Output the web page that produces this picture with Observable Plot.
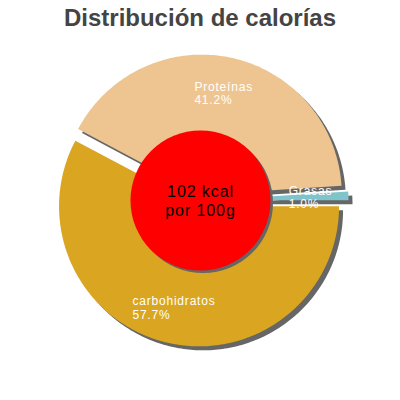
<!DOCTYPE html>
<html><head><meta charset="utf-8">
<script src="https://cdn.jsdelivr.net/npm/d3@7"></script>
<script src="https://cdn.jsdelivr.net/npm/@observablehq/plot@0.6"></script>
<style>
html,body{margin:0;padding:0;background:#fff;}
#title{font-family:"Liberation Sans",Arial,sans-serif;font-weight:bold;font-size:24px;color:#444;text-align:center;height:30px;line-height:30px;padding-top:3px;}
</style></head><body>
<div id="title">Distribución de calorías</div>
<div id="chart"></div>
<script>
// data
const categories = ["carbohidratos", "Proteínas", "Grasas"];
const percents = [57.7, 41.2, 1.0];
const centerLines = ["102 kcal", "por 100g"];

// styles
const palette = ["#DAA520", "#EEC591", "#7FC4CB"];
const explode = [6, 6, 8];
const R = 140, labelR = 110;
const FONT = "'Liberation Sans', Arial, sans-serif";
const LS = 0.8, LS_CENTER = 0.9;

const arcs = d3.pie().sort(null).startAngle(Math.PI / 2).endAngle(Math.PI / 2 + 2 * Math.PI)(percents);

const pts = [];
const labels = [];
const ctx = document.createElement("canvas").getContext("2d");
ctx.font = "12px " + FONT;
arcs.forEach((a, i) => {
  const mid = (a.startAngle + a.endAngle) / 2;
  const ox = explode[i] * Math.sin(mid), oy = -explode[i] * Math.cos(mid);
  pts.push({key: categories[i], color: palette[i], x: ox, y: oy});
  const n = Math.max(2, Math.ceil((a.endAngle - a.startAngle) / (Math.PI / 180)));
  for (let k = 0; k <= n; k++) {
    const t = a.startAngle + (a.endAngle - a.startAngle) * k / n;
    pts.push({key: categories[i], color: palette[i], x: ox + R * Math.sin(t), y: oy - R * Math.cos(t)});
  }
  const lines = [categories[i], percents[i].toFixed(1) + "%"];
  const w = Math.max(...lines.map(l => ctx.measureText(l).width + LS * l.length));
  labels.push({x: labelR * Math.sin(mid) - w / 2, y: -labelR * Math.cos(mid), text: lines.join("\n")});
});

const plot = Plot.plot({
  width: 400, height: 367,
  marginTop: 0, marginRight: 0, marginBottom: 0, marginLeft: 0,
  x: {domain: [-200, 200], range: [0, 400], axis: null},
  y: {domain: [-167, 200], range: [0, 367], axis: null},
  color: {type: "identity"},
  style: {fontFamily: FONT, background: "white"},
  marks: [
    Plot.line(pts, {x: "x", y: "y", z: "key", fill: "#666", stroke: "none", dx: 4, dy: 4, curve: "linear-closed"}),
    Plot.line(pts, {x: "x", y: "y", z: "key", fill: "color", stroke: "none", curve: "linear-closed"}),
    Plot.dot([{x: 0, y: 0}], {x: "x", y: "y", r: 70, fill: "#666", stroke: "none", dx: 2.5, dy: 2.5}),
    Plot.dot([{x: 0, y: 0}], {x: "x", y: "y", r: 70, fill: "#FF0000", stroke: "none"}),
    Plot.text([{x: 0, y: 0, text: centerLines.join("\n")}], {x: "x", y: "y", text: "text", fontSize: 16, fill: "black", lineAnchor: "middle", lineHeight: 1.15}),
    Plot.text(labels, {x: "x", y: "y", text: "text", fontSize: 12, fill: "white", textAnchor: "start", lineAnchor: "middle", lineHeight: 1.15})
  ]
});
const textGroups = d3.select(plot).selectAll("g[aria-label=text]");
textGroups.filter((d, i) => i === 0).attr("letter-spacing", LS_CENTER + "px");
textGroups.filter((d, i) => i === 1).attr("letter-spacing", LS + "px");
document.getElementById("chart").appendChild(plot);
</script>
</body></html>
